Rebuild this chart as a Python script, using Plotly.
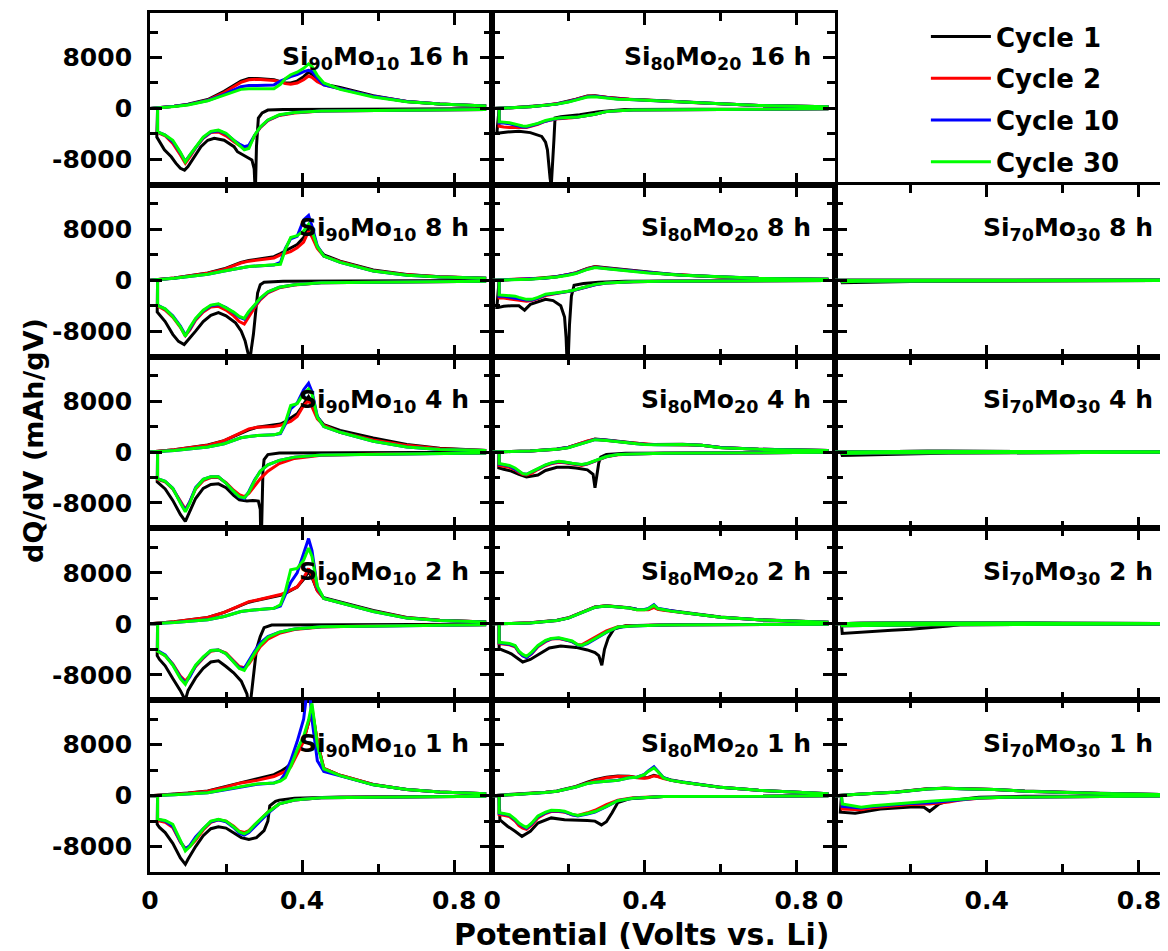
import plotly.graph_objects as go

# ---------------- data ----------------
CYCLES = ["Cycle 1", "Cycle 2", "Cycle 10", "Cycle 30"]
COLORS = ["#000000", "#ff0000", "#0000ff", "#00ff00"]
ROW_HOURS = ["16", "8", "4", "2", "1"]
COL_ALLOYS = [("90", "10"), ("80", "20"), ("70", "30")]

X_TICKS = [0, 0.4, 0.8]
X_TICK_TEXT = ["0", "0.4", "0.8"]
X_MINOR = [0.2, 0.6]
Y_TICKS = [-8000, 0, 8000]
Y_TICK_TEXT = ["-8000", "0", "8000"]
Y_MINOR = [-12000, -4000, 4000, 12000]

# ---- Si90Mo10 (shared voltage grids, V vs Li) ----
V90_CH = [0.02, 0.0, 0.064, 0.1, 0.152, 0.195, 0.239, 0.26, 0.282, 0.326, 0.343, 0.356,
          0.37, 0.387, 0.404, 0.417, 0.426, 0.44, 0.457, 0.5, 0.587, 0.675, 0.762, 0.884]
V90_DIS = [0.884, 0.6, 0.45, 0.38, 0.34, 0.31, 0.29, 0.275, 0.26, 0.248, 0.235, 0.22,
           0.2, 0.18, 0.16, 0.14, 0.12, 0.105, 0.093, 0.08, 0.06, 0.04, 0.025, 0.02]

# Si90Mo10 16 h
S90_16_C1_DV = [0.884, 0.6, 0.45, 0.35, 0.31, 0.295, 0.285, 0.28, 0.277, 0.274, 0.268, 0.25, 0.23,
                0.221, 0.195, 0.169, 0.152, 0.134, 0.117, 0.1, 0.091, 0.08, 0.068, 0.056, 0.038, 0.025, 0.018]
S90_16_C1_DQ = [-50, -80, -100, -150, -250, -700, -1500, -6000, -13600, -9500, -8100, -7500, -6800,
                -6000, -5000, -4700, -5000, -6000, -7600, -9150, -9700, -9400, -8600, -7600, -6500, -5200, -4500]
S90_16_C2_DQ = [-150, -250, -400, -700, -1100, -1900, -3000, -4300, -6000, -6100, -5800, -5200,
                -4300, -3700, -3800, -4700, -6200, -7600, -8600, -7300, -5500, -4300, -3900, -3800]
S90_16_C10_DQ = [-150, -250, -400, -650, -1050, -1850, -2950, -4250, -5800, -6000, -5600, -5000,
                 -4000, -3500, -3700, -4600, -6100, -7400, -8300, -7000, -5200, -4200, -3800, -3700]
S90_16_C30_DQ = [-150, -250, -400, -650, -1000, -1800, -2900, -4200, -6300, -6500, -5800, -5000,
                 -3900, -3400, -3600, -4500, -6000, -7300, -8400, -6900, -5000, -4200, -3800, -3700]
S90_16_C1_CQ = [0, 0, 350, 650, 1400, 2700, 4300, 4700, 4700, 4500, 4200, 4000,
                4000, 4300, 5000, 5700, 5400, 4400, 3800, 3300, 2000, 1100, 700, 400]
S90_16_C2_CQ = [0, 0, 350, 600, 1300, 2500, 4100, 4500, 4600, 4400, 4200, 3900,
                3800, 4000, 4500, 5100, 4900, 4200, 3700, 3100, 1900, 1100, 700, 400]
S90_16_C10_CQ = [0, 0, 350, 600, 1250, 2200, 3400, 3600, 3600, 3700, 4300, 4700,
                 5000, 5300, 5800, 6000, 5800, 4800, 3700, 3100, 1900, 1100, 700, 400]
S90_16_C30_CQ = [0, 0, 300, 550, 1200, 2100, 3000, 3100, 3100, 3100, 3800, 4700,
                 5300, 5700, 6300, 7000, 6600, 5200, 4000, 3000, 1800, 1050, 680, 370]

# Si90Mo10 8 h
S90_8_C1_DV = [0.884, 0.5, 0.35, 0.3, 0.29, 0.283, 0.278, 0.272, 0.266, 0.262, 0.258, 0.25, 0.24,
               0.225, 0.2, 0.18, 0.16, 0.14, 0.12, 0.1, 0.09, 0.075, 0.06, 0.04, 0.025, 0.019]
S90_8_C1_DQ = [-50, -80, -150, -300, -700, -2000, -5000, -8500, -11000, -13100, -11500, -9500, -8000,
               -6700, -5600, -5100, -5500, -6500, -8000, -9500, -10100, -9600, -8500, -6500, -5500, -5000]
S90_8_C2_DQ = [-150, -250, -400, -750, -1200, -2000, -3100, -4300, -5800, -6900, -6500, -5600,
               -4700, -4100, -4200, -5000, -6300, -7800, -8700, -7400, -5800, -4700, -4200, -4000]
S90_8_C10_DQ = [-150, -250, -400, -700, -1100, -1850, -2900, -4000, -5000, -6100, -5800, -5100,
                -4300, -3800, -4000, -4800, -6100, -7600, -8600, -7200, -5600, -4500, -4100, -3900]
S90_8_C30_DQ = [-150, -250, -400, -700, -1100, -1800, -2800, -3900, -4900, -6000, -5700, -5000,
                -4300, -3700, -3900, -4700, -6000, -7400, -8800, -7300, -5700, -4500, -4100, -3900]
S90_8_C1_CQ = [0, 0, 350, 700, 1150, 1800, 2800, 3100, 3300, 3700, 4200, 4600,
               5000, 5600, 6700, 8300, 7200, 5200, 4000, 3000, 1600, 900, 550, 300]
S90_8_C2_CQ = [0, 0, 350, 700, 1100, 1700, 2700, 3000, 3200, 3500, 4000, 4300,
               4500, 5100, 6000, 7700, 6800, 5000, 3800, 2900, 1500, 850, 550, 300]
S90_8_C10_CQ = [0, 0, 300, 600, 950, 1450, 2000, 2150, 2250, 2400, 2800, 5000,
                6500, 6900, 9500, 10200, 8500, 5400, 3800, 2800, 1450, 800, 520, 300]
S90_8_C30_CQ = [0, 0, 300, 600, 950, 1450, 2000, 2150, 2250, 2350, 2500, 4850,
                6700, 7000, 7750, 8800, 7750, 5300, 3800, 2800, 1450, 800, 520, 300]

# Si90Mo10 4 h
S90_4_C1_DV = [0.884, 0.45, 0.34, 0.31, 0.3, 0.297, 0.295, 0.292, 0.29, 0.285, 0.27, 0.255, 0.235,
               0.22, 0.2, 0.18, 0.16, 0.14, 0.12, 0.1, 0.093, 0.08, 0.06, 0.04, 0.025, 0.019]
S90_4_C1_DQ = [-50, -100, -150, -400, -1200, -3000, -8000, -16200, -9000, -7700, -7600, -7700, -7500,
               -6800, -5600, -5000, -5100, -5700, -7300, -9800, -10900, -9800, -7600, -5800, -5000, -4700]
S90_4_C2_DQ = [-150, -300, -500, -1000, -1800, -3000, -4200, -5300, -6500, -7000, -6700, -6000,
               -4800, -4000, -4000, -4500, -5800, -7800, -9000, -7700, -5800, -4700, -4400, -4300]
S90_4_C10_DQ = [-150, -300, -450, -800, -1300, -2000, -3000, -4400, -6200, -7300, -7100, -6200,
                -4900, -3900, -3900, -4300, -5600, -7800, -9200, -7900, -5700, -4600, -4300, -4200]
S90_4_C30_DQ = [-150, -300, -450, -800, -1300, -2000, -3000, -4500, -6300, -7200, -7000, -6200,
                -4900, -3900, -3900, -4300, -5700, -8000, -9400, -8000, -5700, -4600, -4300, -4200]
S90_4_C1_CQ = [0, 0, 350, 700, 1100, 1800, 3000, 3500, 3900, 4200, 4400, 4800,
               5300, 6000, 7500, 8700, 7800, 5500, 4300, 3400, 2200, 1200, 600, 260]
S90_4_C2_CQ = [0, 0, 350, 650, 1050, 1800, 3100, 3650, 3900, 4000, 4200, 4450,
               4800, 5600, 7300, 8100, 7100, 5200, 4200, 3100, 1900, 1050, 520, 260]
S90_4_C10_CQ = [0, 0, 260, 500, 800, 1300, 2250, 2450, 2600, 2700, 2900, 4400,
                6800, 7700, 9800, 10800, 9500, 5600, 4000, 3100, 1700, 800, 400, 260]
S90_4_C30_CQ = [0, 0, 260, 500, 800, 1300, 2250, 2450, 2600, 2700, 3000, 4700,
                7300, 7600, 9150, 9900, 9150, 5500, 4000, 3100, 1700, 800, 400, 260]

# Si90Mo10 2 h
S90_2_C1_DV = [0.884, 0.4, 0.32, 0.3, 0.29, 0.28, 0.272, 0.268, 0.264, 0.26, 0.255, 0.24, 0.22,
               0.2, 0.18, 0.16, 0.14, 0.12, 0.1, 0.093, 0.08, 0.06, 0.04, 0.025, 0.019]
S90_2_C1_DQ = [-50, -100, -200, -600, -2000, -4000, -8500, -10500, -12500, -13200, -11000, -9000, -7700,
               -6700, -5800, -6000, -7000, -8500, -10500, -12000, -10500, -8600, -6600, -5600, -5000]
S90_2_C2_DQ = [-150, -300, -500, -900, -1500, -2400, -3600, -4900, -6300, -6900, -6700, -5800,
               -4600, -4100, -4300, -5400, -6700, -8100, -9000, -8200, -6300, -5000, -4500, -4300]
S90_2_C10_DQ = [-150, -300, -450, -800, -1300, -2000, -3000, -4300, -5900, -7000, -6900, -6000,
                -4700, -4100, -4200, -5300, -6600, -8300, -9300, -8400, -6400, -4900, -4400, -4200]
S90_2_C30_DQ = [-150, -300, -450, -800, -1300, -2100, -3300, -4600, -6000, -7300, -7000, -6000,
                -4700, -4100, -4200, -5200, -6500, -8000, -9500, -8600, -6500, -5000, -4500, -4300]
S90_2_C1_CQ = [0, 0, 350, 650, 1000, 1800, 2900, 3400, 3700, 4200, 4500, 4800,
               5200, 5800, 7000, 8200, 7300, 5200, 4100, 3400, 2100, 1000, 550, 300]
S90_2_C2_CQ = [0, 0, 350, 650, 1000, 1800, 3000, 3500, 3750, 4300, 4600, 4900,
               5300, 5800, 7200, 8700, 7500, 5200, 4000, 3300, 2000, 950, 550, 300]
S90_2_C10_CQ = [0, 0, 200, 400, 630, 1150, 1950, 2100, 2200, 2450, 2800, 4500,
                6500, 8000, 11000, 13400, 11500, 5700, 4000, 3350, 1950, 900, 520, 300]
S90_2_C30_CQ = [0, 0, 200, 400, 630, 1150, 1950, 2100, 2200, 2450, 3000, 5100,
                8500, 8700, 10000, 11900, 10600, 5900, 4000, 3350, 1950, 900, 520, 300]

# Si90Mo10 1 h
S90_1_C1_DV = [0.884, 0.5, 0.38, 0.34, 0.33, 0.315, 0.31, 0.3, 0.28, 0.26, 0.24, 0.22,
               0.2, 0.18, 0.16, 0.14, 0.12, 0.1, 0.093, 0.08, 0.06, 0.04, 0.025, 0.019]
S90_1_C1_DQ = [-100, -200, -400, -700, -900, -1600, -4000, -5500, -6600, -6900, -6600, -5900,
               -5100, -4900, -5200, -6300, -8000, -10000, -10800, -9800, -7500, -5800, -5000, -4500]
S90_1_C2_DQ = [-100, -200, -350, -700, -1300, -2600, -3700, -4600, -5500, -5800, -5600, -4800,
               -4000, -3800, -4200, -5400, -7000, -8000, -8300, -7300, -5000, -4200, -4000, -3900]
S90_1_C10_DQ = [-100, -200, -350, -700, -1300, -2800, -4000, -4900, -5800, -6200, -5900, -5000,
                -4100, -3800, -4100, -5200, -6500, -7800, -8400, -7200, -4800, -4000, -3800, -3700]
S90_1_C30_DQ = [-100, -200, -350, -700, -1300, -2600, -3700, -4600, -5600, -6000, -5700, -4900,
                -4000, -3700, -4000, -5200, -6800, -8000, -8700, -7000, -4500, -3900, -3800, -3700]
S90_1_C1_CQ = [0, 0, 200, 400, 750, 1400, 2100, 2400, 2700, 3300, 3800, 4300,
               5000, 6800, 8800, 11500, 13500, 8500, 4300, 3200, 1750, 950, 580, 300]
S90_1_C2_CQ = [0, 0, 200, 400, 700, 1300, 2000, 2200, 2400, 3000, 3400, 3800,
               4500, 6500, 8500, 11500, 13800, 8500, 4300, 3200, 1750, 950, 580, 300]
S90_1_C10_CQ = [0, 0, 150, 300, 450, 900, 1400, 1600, 1800, 2000, 2400, 3500,
                5500, 8500, 12000, 18500, 12000, 5500, 3800, 3100, 1700, 950, 580, 300]
S90_1_C30_CQ = [0, 0, 150, 300, 450, 950, 1450, 1650, 1850, 2000, 2300, 2800,
                4600, 7200, 9300, 11900, 14500, 8000, 4200, 3150, 1700, 950, 580, 300]

# ---- Si80Mo20 (shared voltage grids) ----
V80_CH = [0.018, 0.0, 0.05, 0.1, 0.14, 0.17, 0.2, 0.22, 0.25, 0.27, 0.3, 0.33, 0.36,
          0.38, 0.4, 0.41, 0.425, 0.435, 0.45, 0.47, 0.5, 0.55, 0.6, 0.7, 0.884]
V80_DIS = [0.884, 0.6, 0.45, 0.37, 0.33, 0.3, 0.27, 0.25, 0.235, 0.225, 0.21, 0.19,
           0.175, 0.155, 0.14, 0.12, 0.104, 0.09, 0.08, 0.07, 0.06, 0.045, 0.03, 0.018]

# Si80Mo20 16 h
S80_16_C1_DV = [0.884, 0.5, 0.35, 0.28, 0.23, 0.18, 0.165, 0.162, 0.158, 0.155, 0.152, 0.149,
                0.145, 0.14, 0.13, 0.1, 0.07, 0.04, 0.02, 0.012]
S80_16_C1_DQ = [-50, -80, -150, -500, -1000, -1300, -1500, -5000, -10000, -12200, -11000, -8500,
                -6500, -5300, -4400, -3800, -3600, -3700, -3800, -3900]
S80_16_C2_DQ = [-50, -100, -150, -250, -350, -500, -900, -1150, -1300, -1350, -1450, -1500,
                -1600, -1800, -2000, -2500, -2800, -3000, -3000, -3000, -3100, -3000, -2900, -2800]
S80_16_C10_DQ = [-50, -100, -150, -250, -350, -500, -900, -1150, -1300, -1350, -1400, -1450,
                 -1550, -1800, -2000, -2400, -2700, -2900, -2900, -2750, -2650, -2400, -2300, -2300]
S80_16_C30_DQ = [-50, -100, -150, -250, -350, -500, -900, -1150, -1300, -1350, -1400, -1400,
                 -1500, -1700, -1900, -2350, -2650, -2800, -2750, -2600, -2500, -2250, -2150, -2100]
S80_16_C1_CQ = [0, 0, 120, 300, 500, 750, 1100, 1450, 1950, 2000, 1750, 1550, 1450,
                1400, 1350, 1300, 1250, 1250, 1200, 1150, 1100, 900, 720, 480, 260]
S80_16_C2_CQ = [0, 0, 100, 280, 480, 720, 1080, 1400, 1900, 1950, 1700, 1550, 1450,
                1400, 1350, 1300, 1250, 1200, 1150, 1100, 1050, 870, 720, 480, 260]
S80_16_C10_CQ = [0, 0, 100, 260, 450, 700, 1050, 1350, 1850, 1900, 1650, 1500, 1400,
                 1350, 1300, 1250, 1200, 1200, 1150, 1100, 1050, 850, 700, 470, 260]
S80_16_C30_CQ = [0, 0, 100, 260, 450, 680, 1000, 1300, 1800, 1850, 1600, 1450, 1400,
                 1350, 1300, 1250, 1200, 1200, 1150, 1100, 1050, 850, 700, 470, 260]

# Si80Mo20 8 h
S80_8_C1_DV = [0.884, 0.5, 0.35, 0.28, 0.24, 0.215, 0.208, 0.203, 0.198, 0.194, 0.19,
               0.18, 0.16, 0.14, 0.12, 0.1, 0.085, 0.07, 0.05, 0.03, 0.015, 0.012]
S80_8_C1_DQ = [-50, -80, -150, -300, -500, -800, -2500, -7000, -15000, -9000, -5800,
               -4000, -3200, -3000, -3400, -3800, -4700, -4000, -4000, -4100, -4300, -4300]
S80_8_C2_DQ = [-50, -80, -150, -250, -350, -450, -700, -1050, -1300, -1450, -1650, -1850,
               -2050, -2200, -2400, -2900, -3200, -3300, -3200, -3100, -3000, -2900, -2800, -2800]
S80_8_C10_DQ = [-50, -80, -150, -250, -350, -450, -700, -1050, -1300, -1450, -1650, -1850,
                -2000, -2150, -2300, -2800, -3100, -3100, -3000, -2800, -2700, -2600, -2500, -2500]
S80_8_C30_DQ = [-50, -80, -150, -250, -350, -450, -650, -1000, -1250, -1400, -1600, -1800,
                -1950, -2100, -2200, -2700, -3000, -3000, -2900, -2700, -2500, -2400, -2300, -2300]
S80_8_C1_CQ = [0, 0, 100, 200, 380, 600, 900, 1200, 1850, 2150, 1950, 1750, 1600,
               1450, 1300, 1250, 1200, 1100, 1050, 950, 800, 650, 520, 300, 150]
S80_8_C2_CQ = [0, 0, 90, 170, 340, 560, 850, 1150, 1800, 2100, 1900, 1700, 1550,
               1400, 1250, 1200, 1150, 1100, 1000, 900, 800, 650, 520, 300, 150]
S80_8_C10_CQ = [0, 0, 80, 160, 320, 540, 820, 1100, 1750, 2050, 1850, 1650, 1500,
                1400, 1250, 1200, 1150, 1100, 1000, 900, 780, 650, 520, 300, 150]
S80_8_C30_CQ = [0, 0, 80, 150, 300, 520, 800, 1050, 1700, 2000, 1800, 1600, 1450,
                1350, 1200, 1150, 1100, 1050, 1000, 900, 780, 650, 520, 300, 150]

# Si80Mo20 4 h
S80_4_C1_DV = [0.884, 0.5, 0.35, 0.3, 0.285, 0.28, 0.275, 0.27, 0.265, 0.25,
               0.22, 0.2, 0.17, 0.14, 0.12, 0.09, 0.07, 0.05, 0.03, 0.017]
S80_4_C1_DQ = [-50, -100, -200, -400, -800, -1700, -3400, -5600, -3500, -2800,
               -2500, -2400, -2400, -2900, -3600, -3900, -3500, -3000, -2700, -2500]
S80_4_C2_DQ = [-50, -100, -180, -300, -420, -750, -1450, -1900, -2100, -2050, -1900, -1700,
               -1600, -1850, -2150, -2750, -3300, -3600, -3500, -3200, -2800, -2400, -2200, -2100]
S80_4_C10_DQ = [-50, -100, -180, -300, -400, -700, -1400, -1850, -2000, -1950, -1800, -1600,
                -1500, -1750, -2050, -2650, -3150, -3500, -3400, -3050, -2600, -2200, -2000, -1900]
S80_4_C30_DQ = [-50, -100, -180, -300, -400, -700, -1400, -1800, -1950, -1900, -1750, -1550,
                -1450, -1700, -2000, -2600, -3100, -3500, -3400, -3000, -2500, -2100, -1900, -1800]
S80_4_C1_CQ = [0, 0, 90, 170, 320, 480, 750, 1120, 1780, 2050, 1900, 1700, 1480,
               1350, 1250, 1200, 1180, 1180, 1170, 1190, 1220, 1060, 720, 440, 260]
S80_4_C2_CQ = [0, 0, 90, 160, 300, 450, 720, 1100, 1750, 2000, 1870, 1650, 1450,
               1330, 1230, 1180, 1170, 1170, 1160, 1180, 1200, 1050, 700, 430, 260]
S80_4_C10_CQ = [0, 0, 80, 150, 290, 430, 700, 1070, 1720, 1970, 1850, 1620, 1420,
                1320, 1220, 1170, 1170, 1160, 1160, 1180, 1200, 1050, 700, 430, 260]
S80_4_C30_CQ = [0, 0, 80, 150, 280, 420, 680, 1050, 1700, 1950, 1830, 1600, 1400,
                1300, 1200, 1150, 1150, 1150, 1150, 1170, 1200, 1050, 680, 420, 260]

# Si80Mo20 2 h
S80_2_C1_DV = [0.884, 0.5, 0.35, 0.32, 0.305, 0.295, 0.288, 0.28, 0.27, 0.25,
               0.22, 0.18, 0.15, 0.12, 0.1, 0.08, 0.07, 0.05, 0.03, 0.018]
S80_2_C1_DQ = [-50, -100, -300, -800, -2200, -4000, -6500, -5000, -4500, -4100,
               -3700, -3500, -3800, -4800, -5600, -6000, -5600, -4700, -4200, -3900]
S80_2_C2_DQ = [-50, -100, -200, -300, -450, -1100, -2100, -2900, -3300, -3300, -2800, -2500,
               -2300, -2400, -2800, -3600, -4700, -5300, -5000, -4500, -3600, -3300, -3200, -3100]
S80_2_C10_DQ = [-50, -100, -200, -350, -520, -1350, -2400, -3100, -3450, -3350, -2800, -2450,
                -2250, -2350, -2700, -3500, -4600, -5300, -5000, -4400, -3500, -3200, -3100, -3000]
S80_2_C30_DQ = [-50, -100, -200, -350, -500, -1300, -2350, -3000, -3400, -3300, -2700, -2400,
                -2200, -2300, -2600, -3400, -4400, -5100, -4800, -4300, -3400, -3100, -3000, -2900]
S80_2_C1_CQ = [0, 0, 70, 170, 360, 560, 950, 1450, 2250, 2650, 2850, 2750, 2550,
               2300, 2200, 2250, 2650, 2350, 2200, 2050, 1850, 1450, 1080, 650, 260]
S80_2_C2_CQ = [0, 0, 70, 160, 350, 540, 930, 1450, 2250, 2650, 2850, 2700, 2500,
               2200, 2150, 2200, 2600, 2300, 2150, 2000, 1800, 1400, 1050, 630, 260]
S80_2_C10_CQ = [0, 0, 60, 150, 330, 520, 900, 1400, 2200, 2600, 2800, 2700, 2500,
                2250, 2250, 2400, 3000, 2450, 2250, 2050, 1800, 1400, 1050, 630, 260]
S80_2_C30_CQ = [0, 0, 60, 150, 330, 520, 900, 1400, 2200, 2600, 2800, 2700, 2500,
                2200, 2200, 2350, 2900, 2400, 2200, 2000, 1800, 1400, 1050, 630, 260]

# Si80Mo20 1 h
S80_1_C1_DV = [0.884, 0.6, 0.45, 0.36, 0.33, 0.315, 0.3, 0.287, 0.27, 0.25,
               0.225, 0.19, 0.155, 0.12, 0.1, 0.078, 0.06, 0.04, 0.02]
S80_1_C1_DQ = [-30, -60, -150, -500, -1100, -2700, -4100, -4600, -4000, -3900,
               -3900, -3800, -3500, -4300, -5600, -6400, -5600, -4800, -3800]
S80_1_C2_DQ = [-30, -60, -150, -350, -700, -1400, -2300, -2700, -3000, -3100, -3000, -2600,
               -2500, -2500, -2800, -3500, -4600, -5300, -5100, -4700, -4000, -3300, -3100, -3000]
S80_1_C10_DQ = [-30, -60, -150, -400, -800, -1750, -2600, -2900, -3100, -3200, -3000, -2550,
                -2400, -2400, -2700, -3300, -4400, -5100, -4800, -4400, -3800, -3100, -2900, -2800]
S80_1_C30_DQ = [-30, -60, -150, -400, -800, -1700, -2500, -2800, -3000, -3100, -2900, -2450,
                -2350, -2300, -2600, -3200, -4300, -5000, -4700, -4300, -3700, -3000, -2800, -2700]
S80_1_C1_CQ = [0, 0, 160, 320, 540, 720, 1150, 1450, 2100, 2500, 2900, 3100, 3050,
               2850, 2800, 2850, 3200, 3050, 2750, 2450, 2150, 1750, 1320, 850, 300]
S80_1_C2_CQ = [0, 0, 150, 300, 520, 700, 1100, 1400, 2000, 2400, 2800, 3000, 3000,
               2800, 2750, 2800, 3100, 3000, 2700, 2400, 2100, 1700, 1300, 840, 300]
S80_1_C10_CQ = [0, 0, 150, 300, 500, 690, 1060, 1370, 1920, 2120, 2270, 2420, 2800,
                2900, 3350, 3900, 4550, 3900, 2850, 2400, 2100, 1700, 1300, 840, 300]
S80_1_C30_CQ = [0, 0, 150, 300, 500, 680, 1050, 1350, 1900, 2100, 2250, 2400, 2800,
                2900, 3300, 3800, 4350, 3800, 2800, 2400, 2100, 1700, 1300, 840, 300]

# ---- Si70Mo30 (shared voltage grids) ----
V70_CH = [0.018, 0.0, 0.07, 0.16, 0.245, 0.29, 0.35, 0.42, 0.5, 0.6, 0.7, 0.876]
V70_DIS = [0.876, 0.6, 0.45, 0.38, 0.33, 0.3, 0.25, 0.2, 0.15, 0.1, 0.07, 0.04, 0.02]

# Si70Mo30 8 h
S70_8_C1_DQ = [-30, -50, -70, -90, -110, -130, -150, -200, -250, -300, -330, -360, -400]
S70_8_C2_DQ = [-20, -30, -40, -50, -60, -70, -80, -100, -120, -150, -170, -200, -220]
S70_8_C10_DQ = [-20, -30, -40, -50, -60, -70, -80, -100, -120, -150, -170, -200, -220]
S70_8_C30_DQ = [-20, -30, -40, -50, -60, -70, -80, -100, -120, -150, -170, -200, -220]
S70_8_C1_CQ = [0, 0, 30, 60, 80, 80, 80, 70, 60, 50, 40, 30]
S70_8_C2_CQ = [0, 0, 30, 60, 80, 80, 80, 70, 60, 50, 40, 30]
S70_8_C10_CQ = [0, 0, 30, 60, 80, 80, 80, 70, 60, 50, 40, 30]
S70_8_C30_CQ = [0, 0, 30, 60, 80, 80, 80, 70, 60, 50, 40, 30]

# Si70Mo30 4 h
S70_4_C1_DQ = [-30, -50, -70, -100, -130, -160, -220, -300, -380, -450, -480, -500, -520]
S70_4_C2_DQ = [-20, -30, -40, -50, -60, -70, -90, -110, -130, -160, -180, -200, -220]
S70_4_C10_DQ = [-20, -30, -40, -50, -60, -70, -90, -110, -130, -160, -180, -200, -220]
S70_4_C30_DQ = [-20, -30, -40, -50, -60, -70, -90, -110, -130, -160, -180, -200, -220]
S70_4_C1_CQ = [0, 0, 40, 80, 110, 120, 120, 110, 90, 70, 50, 30]
S70_4_C2_CQ = [0, 0, 40, 80, 110, 120, 120, 110, 90, 70, 50, 30]
S70_4_C10_CQ = [0, 0, 40, 80, 110, 120, 120, 110, 90, 70, 50, 30]
S70_4_C30_CQ = [0, 0, 40, 80, 110, 120, 120, 110, 90, 70, 50, 30]

# Si70Mo30 2 h
S70_2_C1_DQ = [-30, -50, -80, -100, -150, -350, -650, -850, -1000, -1150, -1250, -1400, -1500]
S70_2_C2_DQ = [-20, -30, -40, -60, -80, -100, -130, -170, -200, -230, -250, -270, -300]
S70_2_C10_DQ = [-20, -30, -40, -60, -80, -100, -130, -170, -200, -230, -250, -270, -300]
S70_2_C30_DQ = [-20, -30, -40, -60, -80, -100, -130, -170, -200, -230, -250, -270, -300]
S70_2_C1_CQ = [0, 0, 80, 130, 160, 170, 170, 160, 140, 110, 80, 50]
S70_2_C2_CQ = [0, 0, 80, 130, 160, 170, 170, 160, 140, 110, 80, 50]
S70_2_C10_CQ = [0, 0, 80, 130, 160, 170, 170, 160, 140, 110, 80, 50]
S70_2_C30_CQ = [0, 0, 80, 130, 160, 170, 170, 160, 140, 110, 80, 50]

# Si70Mo30 1 h
S70_1_C1_DV = [0.876, 0.5, 0.38, 0.3, 0.275, 0.25, 0.235, 0.21, 0.12, 0.054, 0.015]
S70_1_C1_DQ = [-30, -100, -260, -800, -1300, -2460, -1830, -1730, -2100, -2770, -2600]
S70_1_C2_DQ = [-50, -150, -250, -400, -700, -1000, -1300, -1400, -1600, -1900, -2200, -2200, -2100]
S70_1_C10_DQ = [-50, -150, -250, -380, -650, -900, -1100, -1250, -1450, -1700, -1950, -1800, -1700]
S70_1_C30_DQ = [-50, -150, -250, -370, -600, -780, -900, -1100, -1300, -1600, -1830, -1500, -1300]
S70_1_C1_CQ = [0, 0, 280, 560, 1080, 1180, 1080, 980, 720, 530, 360, 150]
S70_1_C2_CQ = [0, 0, 270, 540, 1070, 1170, 1070, 970, 710, 520, 350, 150]
S70_1_C10_CQ = [0, 0, 260, 520, 1050, 1150, 1050, 950, 700, 520, 350, 150]
S70_1_C30_CQ = [0, 0, 260, 520, 1050, 1150, 1050, 950, 700, 520, 350, 150]

# panels: (row, col) -> list of (discharge V, discharge Q, charge V, charge Q) per cycle
PANELS = {
    (0, 0): [(S90_16_C1_DV, S90_16_C1_DQ, V90_CH, S90_16_C1_CQ), (V90_DIS, S90_16_C2_DQ, V90_CH, S90_16_C2_CQ),
             (V90_DIS, S90_16_C10_DQ, V90_CH, S90_16_C10_CQ), (V90_DIS, S90_16_C30_DQ, V90_CH, S90_16_C30_CQ)],
    (1, 0): [(S90_8_C1_DV, S90_8_C1_DQ, V90_CH, S90_8_C1_CQ), (V90_DIS, S90_8_C2_DQ, V90_CH, S90_8_C2_CQ),
             (V90_DIS, S90_8_C10_DQ, V90_CH, S90_8_C10_CQ), (V90_DIS, S90_8_C30_DQ, V90_CH, S90_8_C30_CQ)],
    (2, 0): [(S90_4_C1_DV, S90_4_C1_DQ, V90_CH, S90_4_C1_CQ), (V90_DIS, S90_4_C2_DQ, V90_CH, S90_4_C2_CQ),
             (V90_DIS, S90_4_C10_DQ, V90_CH, S90_4_C10_CQ), (V90_DIS, S90_4_C30_DQ, V90_CH, S90_4_C30_CQ)],
    (3, 0): [(S90_2_C1_DV, S90_2_C1_DQ, V90_CH, S90_2_C1_CQ), (V90_DIS, S90_2_C2_DQ, V90_CH, S90_2_C2_CQ),
             (V90_DIS, S90_2_C10_DQ, V90_CH, S90_2_C10_CQ), (V90_DIS, S90_2_C30_DQ, V90_CH, S90_2_C30_CQ)],
    (4, 0): [(S90_1_C1_DV, S90_1_C1_DQ, V90_CH, S90_1_C1_CQ), (V90_DIS, S90_1_C2_DQ, V90_CH, S90_1_C2_CQ),
             (V90_DIS, S90_1_C10_DQ, V90_CH, S90_1_C10_CQ), (V90_DIS, S90_1_C30_DQ, V90_CH, S90_1_C30_CQ)],
    (0, 1): [(S80_16_C1_DV, S80_16_C1_DQ, V80_CH, S80_16_C1_CQ), (V80_DIS, S80_16_C2_DQ, V80_CH, S80_16_C2_CQ),
             (V80_DIS, S80_16_C10_DQ, V80_CH, S80_16_C10_CQ), (V80_DIS, S80_16_C30_DQ, V80_CH, S80_16_C30_CQ)],
    (1, 1): [(S80_8_C1_DV, S80_8_C1_DQ, V80_CH, S80_8_C1_CQ), (V80_DIS, S80_8_C2_DQ, V80_CH, S80_8_C2_CQ),
             (V80_DIS, S80_8_C10_DQ, V80_CH, S80_8_C10_CQ), (V80_DIS, S80_8_C30_DQ, V80_CH, S80_8_C30_CQ)],
    (2, 1): [(S80_4_C1_DV, S80_4_C1_DQ, V80_CH, S80_4_C1_CQ), (V80_DIS, S80_4_C2_DQ, V80_CH, S80_4_C2_CQ),
             (V80_DIS, S80_4_C10_DQ, V80_CH, S80_4_C10_CQ), (V80_DIS, S80_4_C30_DQ, V80_CH, S80_4_C30_CQ)],
    (3, 1): [(S80_2_C1_DV, S80_2_C1_DQ, V80_CH, S80_2_C1_CQ), (V80_DIS, S80_2_C2_DQ, V80_CH, S80_2_C2_CQ),
             (V80_DIS, S80_2_C10_DQ, V80_CH, S80_2_C10_CQ), (V80_DIS, S80_2_C30_DQ, V80_CH, S80_2_C30_CQ)],
    (4, 1): [(S80_1_C1_DV, S80_1_C1_DQ, V80_CH, S80_1_C1_CQ), (V80_DIS, S80_1_C2_DQ, V80_CH, S80_1_C2_CQ),
             (V80_DIS, S80_1_C10_DQ, V80_CH, S80_1_C10_CQ), (V80_DIS, S80_1_C30_DQ, V80_CH, S80_1_C30_CQ)],
    (1, 2): [(V70_DIS, S70_8_C1_DQ, V70_CH, S70_8_C1_CQ), (V70_DIS, S70_8_C2_DQ, V70_CH, S70_8_C2_CQ),
             (V70_DIS, S70_8_C10_DQ, V70_CH, S70_8_C10_CQ), (V70_DIS, S70_8_C30_DQ, V70_CH, S70_8_C30_CQ)],
    (2, 2): [(V70_DIS, S70_4_C1_DQ, V70_CH, S70_4_C1_CQ), (V70_DIS, S70_4_C2_DQ, V70_CH, S70_4_C2_CQ),
             (V70_DIS, S70_4_C10_DQ, V70_CH, S70_4_C10_CQ), (V70_DIS, S70_4_C30_DQ, V70_CH, S70_4_C30_CQ)],
    (3, 2): [(V70_DIS, S70_2_C1_DQ, V70_CH, S70_2_C1_CQ), (V70_DIS, S70_2_C2_DQ, V70_CH, S70_2_C2_CQ),
             (V70_DIS, S70_2_C10_DQ, V70_CH, S70_2_C10_CQ), (V70_DIS, S70_2_C30_DQ, V70_CH, S70_2_C30_CQ)],
    (4, 2): [(S70_1_C1_DV, S70_1_C1_DQ, V70_CH, S70_1_C1_CQ), (V70_DIS, S70_1_C2_DQ, V70_CH, S70_1_C2_CQ),
             (V70_DIS, S70_1_C10_DQ, V70_CH, S70_1_C10_CQ), (V70_DIS, S70_1_C30_DQ, V70_CH, S70_1_C30_CQ)],
}

# ---------------- layout geometry (figure pixels; page has an 8 px body margin) ----------------
W, H = 1160, 943
PLOT_LEFT, COL_W = 134, 345
PLOT_TOP, ROW_H = 5, 171.8
X_FULL = 0.9
Y_RANGE = [-12000, 15000]
FONT = "DejaVu Sans, Liberation Sans, sans-serif"

fig = go.Figure()
layout = {}
annotations = []

for r in range(5):
    for c in range(3):
        i = r * 3 + c + 1
        xs = "" if i == 1 else str(i)
        x0 = PLOT_LEFT + c * COL_W
        x1 = min(x0 + COL_W, W)
        xmax = X_FULL * (x1 - x0) / COL_W
        top = PLOT_TOP + r * ROW_H
        bot = top + ROW_H
        layout["xaxis" + xs] = dict(
            domain=[x0 / W, x1 / W], anchor="y" + xs, range=[0, xmax],
            showline=True, linecolor="black", linewidth=2.8, mirror="ticks",
            ticks="inside", ticklen=12, tickwidth=2.6, tickcolor="black",
            tickmode="array", tickvals=X_TICKS, ticktext=X_TICK_TEXT,
            minor=dict(tickmode="array", tickvals=X_MINOR, ticks="inside", ticklen=8,
                       tickwidth=2.6, tickcolor="black"),
            showgrid=False, zeroline=False, showticklabels=(r == 4),
            tickfont=dict(family=FONT, size=25, color="black", weight="bold"),
            ticklabelstandoff=4,
        )
        layout["yaxis" + xs] = dict(
            domain=[1 - bot / H, 1 - top / H], anchor="x" + xs, range=Y_RANGE,
            showline=True, linecolor="black", linewidth=2.8,
            mirror=("ticks" if c < 2 else False),
            ticks="inside", ticklen=12, tickwidth=2.6, tickcolor="black",
            tickmode="array", tickvals=Y_TICKS, ticktext=Y_TICK_TEXT,
            minor=dict(tickmode="array", tickvals=Y_MINOR, ticks="inside", ticklen=8,
                       tickwidth=2.6, tickcolor="black"),
            showgrid=False, zeroline=False, showticklabels=(c == 0),
            tickfont=dict(family=FONT, size=25, color="black", weight="bold"),
            ticklabelstandoff=10,
        )
        curves = PANELS.get((r, c))
        if curves is None:
            continue
        for k, (dv, dq, cv, cq) in enumerate(curves):
            fig.add_trace(go.Scatter(
                x=list(dv) + list(cv), y=list(dq) + list(cq), mode="lines",
                line=dict(color=COLORS[k], width=3),
                name=CYCLES[k], legendgroup=CYCLES[k], showlegend=(i == 1),
                xaxis="x" + xs, yaxis="y" + xs,
            ))
        si, mo = COL_ALLOYS[c]
        annotations.append(dict(
            text=f"Si<sub>{si}</sub>Mo<sub>{mo}</sub> {ROW_HOURS[r]} h",
            xref="x" + xs, yref="y" + xs, x=0.843, y=8000,
            xanchor="right", yanchor="middle", showarrow=False,
            font=dict(family=FONT, size=25, color="black", weight="bold"),
        ))

annotations.append(dict(
    text="dQ/dV (mAh/gV)", xref="paper", yref="paper", x=16 / W, y=1 - 432 / H,
    textangle=-90, showarrow=False, xanchor="center", yanchor="middle",
    font=dict(family=FONT, size=27, color="black", weight="bold"),
))
annotations.append(dict(
    text="Potential (Volts vs. Li)", xref="paper", yref="paper", x=629 / W, y=-3 / H,
    showarrow=False, xanchor="center", yanchor="bottom",
    font=dict(family=FONT, size=30, color="black", weight="bold"),
))

fig.update_layout(
    width=W, height=H, autosize=False,
    margin=dict(l=0, r=0, t=0, b=0, pad=0),
    paper_bgcolor="white", plot_bgcolor="white",
    annotations=annotations,
    showlegend=True,
    legend=dict(x=916 / W, y=1 - 5 / H, xanchor="left", yanchor="top",
                bgcolor="rgba(0,0,0,0)", borderwidth=0, tracegroupgap=5, itemwidth=60,
                font=dict(family=FONT, size=26, color="black", weight="bold")),
    **layout,
)

fig.write_html("out.html")
